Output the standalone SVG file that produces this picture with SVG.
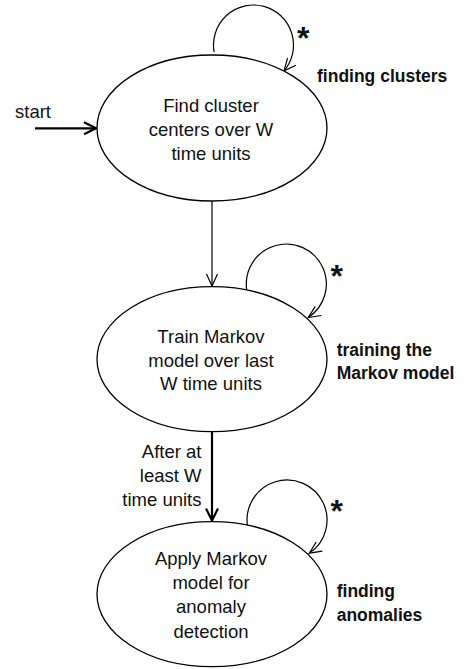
<svg xmlns="http://www.w3.org/2000/svg" width="464" height="669" viewBox="0 0 464 669">
<style>
.node{fill:#fff;stroke:#000;stroke-width:1.3}
.t{font-family:"Liberation Sans",Arial,sans-serif;font-size:18.5px;fill:#111;text-anchor:middle}
.lbl{font-family:"Liberation Sans",Arial,sans-serif;font-size:18.5px;fill:#111}
.b{font-family:"Liberation Sans",Arial,sans-serif;font-size:17.5px;font-weight:bold;fill:#111}
.star{font-family:"Liberation Sans",Arial,sans-serif;font-size:32px;font-weight:bold;fill:#111}
.thin{fill:none;stroke:#000;stroke-width:1.2}
.thick{fill:none;stroke:#000;stroke-width:2.2}
</style>
<defs>
<marker id="ah" markerUnits="userSpaceOnUse" markerWidth="30" markerHeight="30" viewBox="-15 -15 30 30" refX="0" refY="0" orient="auto" overflow="visible">
<path d="M-12,-5.5 L0,0 L-12,5.5" fill="none" stroke="#000" stroke-width="1.2"/>
</marker>
<marker id="ah2" markerUnits="userSpaceOnUse" markerWidth="30" markerHeight="30" viewBox="-15 -15 30 30" refX="0" refY="0" orient="auto" overflow="visible">
<path d="M-12,-6 L0,0 L-12,6" fill="none" stroke="#000" stroke-width="2.2"/>
</marker>
</defs>
<g id="connectors">
<path id="start-edge" class="thick" d="M35,128.3 L96,128.3" marker-end="url(#ah2)"/>
<path id="e1-2" class="thin" d="M212,201 L212,286" marker-end="url(#ah)"/>
<path id="e2-3" class="thick" d="M212,432 L212,520.5" marker-end="url(#ah2)"/>
<path id="loop1" class="thin" d="M214.1,52 A40,40 0 1,1 284,70.9" marker-end="url(#ah)"/>
<path id="loop2" class="thin" d="M246.7,289.6 A40,40 0 1,1 308.3,317.5" marker-end="url(#ah)"/>
<path id="loop3" class="thin" d="M247.5,526 A40,40 0 1,1 309.3,553.2" marker-end="url(#ah)"/>
<text class="lbl" x="15" y="118">start</text>
<text class="lbl" x="201.5" y="458" text-anchor="end">After at</text>
<text class="lbl" x="201.5" y="482" text-anchor="end">least W</text>
<text class="lbl" x="201.5" y="505.5" text-anchor="end">time units</text>
<text class="star" x="297" y="48.5">*</text>
<text class="star" x="330.5" y="286.7">*</text>
<text class="star" x="330.5" y="521.7">*</text>
</g>
<g id="node-clusters">
<ellipse class="node" cx="212" cy="128" rx="115" ry="73"/>
<text class="t" x="211" y="112">Find cluster</text>
<text class="t" x="211" y="136">centers over W</text>
<text class="t" x="211" y="160">time units</text>
<text class="b" x="317" y="82">finding clusters</text>
</g>
<g id="node-train">
<ellipse class="node" cx="212" cy="359.2" rx="115" ry="72.5"/>
<text class="t" x="211" y="343.3">Train Markov</text>
<text class="t" x="211" y="366.7">model over last</text>
<text class="t" x="211" y="390">W time units</text>
<text class="b" x="336.7" y="356">training the</text>
<text class="b" x="336.7" y="379">Markov model</text>
</g>
<g id="node-apply">
<ellipse class="node" cx="212" cy="594.2" rx="115" ry="72.5"/>
<text class="t" x="211" y="565">Apply Markov</text>
<text class="t" x="211" y="589">model for</text>
<text class="t" x="211" y="613">anomaly</text>
<text class="t" x="211" y="637.5">detection</text>
<text class="b" x="336.7" y="596.7">finding</text>
<text class="b" x="336.7" y="620.7">anomalies</text>
</g>
</svg>
